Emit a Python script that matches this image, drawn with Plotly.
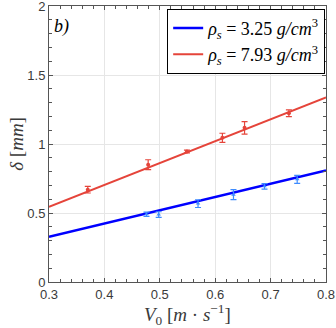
import plotly.graph_objects as go

# measured points, rho_s = 3.25 g/cm3
v_blue = [0.476, 0.498, 0.569, 0.633, 0.689, 0.748]
d_blue = [0.491, 0.489, 0.568, 0.633, 0.693, 0.744]
e_blue = [0.015, 0.020, 0.028, 0.036, 0.020, 0.029]

# measured points, rho_s = 7.93 g/cm3
v_red = [0.370, 0.479, 0.549, 0.613, 0.653, 0.733]
d_red = [0.669, 0.850, 0.946, 1.045, 1.117, 1.223]
e_red = [0.024, 0.036, 0.010, 0.033, 0.045, 0.024]

# linear fits, evaluated at the axis ends
fit_v = [0.3, 0.8]
fit_blue = [0.327, 0.809]
fit_red = [0.544, 1.338]

BLUE_LINE = "#0000ff"
BLUE_PTS = "#3d8bff"
RED_LINE = "#e5443a"
RED_PTS = "#e5443a"
SERIF = "Liberation Serif, DejaVu Serif, serif"

fig = go.Figure()

fig.add_trace(go.Scatter(
    x=fit_v, y=fit_blue, mode="lines",
    line=dict(color=BLUE_LINE, width=2.5),
    name="<i>ρ<sub>s</sub></i> = 3.25 <i>g/cm</i><sup>3</sup>",
))
fig.add_trace(go.Scatter(
    x=fit_v, y=fit_red, mode="lines",
    line=dict(color=RED_LINE, width=2),
    name="<i>ρ<sub>s</sub></i> = 7.93 <i>g/cm</i><sup>3</sup>",
))
fig.add_trace(go.Scatter(
    x=v_blue, y=d_blue, mode="markers",
    marker=dict(color=BLUE_PTS, size=4, symbol="triangle-up"),
    error_y=dict(type="data", array=e_blue, color=BLUE_PTS, thickness=1.2, width=3),
    showlegend=False,
))
fig.add_trace(go.Scatter(
    x=v_red, y=d_red, mode="markers",
    marker=dict(color=RED_PTS, size=4),
    error_y=dict(type="data", array=e_red, color=RED_PTS, thickness=1.2, width=3),
    showlegend=False,
))

axis_common = dict(
    automargin=False,
    showline=True, linecolor="#555555", linewidth=1, mirror="ticks",
    ticks="inside", ticklen=4, tickcolor="#555555",
    showgrid=True, gridcolor="#e6e6e6", gridwidth=1,
    zeroline=False, ticklabeloverflow="allow",
    tickfont=dict(family="Liberation Sans, Arial", size=13, color="#3a3a3a"),
)

fig.update_xaxes(
    range=[0.3, 0.8], dtick=0.1, tickformat=".1f",
    minor=dict(dtick=0.02, ticks="inside", ticklen=3, tickcolor="#555555", showgrid=False),
    **axis_common,
)
fig.update_yaxes(
    range=[0, 2], tickvals=[0, 0.5, 1, 1.5, 2], ticktext=["0", "0.5", "1", "1.5", "2"],
    minor=dict(dtick=0.1, ticks="inside", ticklen=3, tickcolor="#555555", showgrid=False),
    **axis_common,
)

# axis titles placed as annotations so their position is fixed
fig.add_annotation(
    x=0.5, y=-0.118, xref="paper", yref="paper", xanchor="center", yanchor="middle",
    text="<i>V</i><sub>0</sub> [<i>m</i> · <i>s</i><sup>−1</sup>]", showarrow=False,
    font=dict(family=SERIF, size=19, color="#3a3a3a"),
)
fig.add_annotation(
    x=-0.12, y=0.5, xref="paper", yref="paper", xanchor="center", yanchor="middle",
    text="<i>δ</i> [<i>mm</i>]", showarrow=False, textangle=-90,
    font=dict(family=SERIF, size=19, color="#3a3a3a"),
)
fig.add_annotation(
    x=0.01, y=0.97, xref="paper", yref="paper", xanchor="left", yanchor="top",
    text="<i>b)</i>", showarrow=False,
    font=dict(family=SERIF, size=18, color="black"),
)

fig.update_layout(
    width=336, height=328,
    margin=dict(l=49, r=10, t=6, b=46),
    plot_bgcolor="white", paper_bgcolor="white",
    legend=dict(
        x=0.997, y=0.99, xanchor="right", yanchor="top",
        bgcolor="white", bordercolor="black", borderwidth=1,
        font=dict(family=SERIF, size=18, color="black"),
        itemwidth=30, tracegroupgap=0,
    ),
)

# the page's default body margin would push the figure off the window
fig.write_html(
    "out.html",
    config={"displayModeBar": False},
    post_script="document.body.style.margin='0';",
)
